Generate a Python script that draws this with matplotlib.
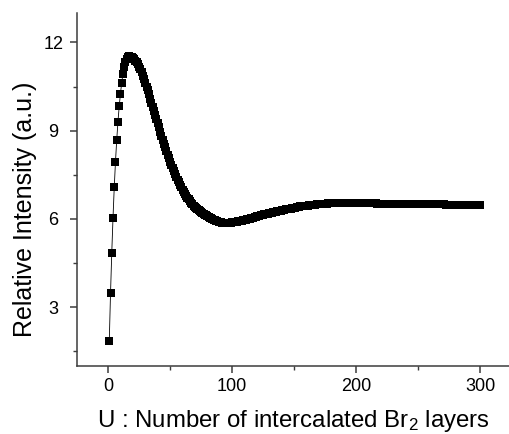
import matplotlib
matplotlib.use("Agg")
import matplotlib.pyplot as plt
from matplotlib.ticker import MultipleLocator

plt.rcParams['font.family'] = ['Liberation Sans', 'DejaVu Sans']
plt.rcParams['mathtext.default'] = 'regular'

# number of intercalated Br2 layers (1..300)
layers = list(range(1, 301))

# relative intensity, one value per layer
intensity = [
    1.85, 3.47, 4.85, 6.04, 7.07, 7.95, 8.69, 9.31, 9.83, 10.26,
    10.63, 10.93, 11.17, 11.34, 11.45, 11.51, 11.53, 11.52, 11.50, 11.47,
    11.43, 11.38, 11.32, 11.25, 11.17, 11.08, 10.98, 10.87, 10.75, 10.63,
    10.50, 10.37, 10.23, 10.09, 9.95, 9.81, 9.67, 9.53, 9.39, 9.25,
    9.11, 8.97, 8.83, 8.69, 8.56, 8.43, 8.30, 8.18, 8.06, 7.94,
    7.83, 7.72, 7.62, 7.52, 7.42, 7.33, 7.24, 7.15, 7.07, 6.99,
    6.92, 6.85, 6.78, 6.72, 6.66, 6.60, 6.55, 6.50, 6.45, 6.41,
    6.37, 6.33, 6.29, 6.26, 6.23, 6.20, 6.17, 6.14, 6.12, 6.10,
    6.07, 6.04, 6.02, 5.99, 5.97, 5.95, 5.93, 5.91, 5.90, 5.89,
    5.88, 5.87, 5.87, 5.86, 5.86, 5.86, 5.86, 5.87, 5.87, 5.88,
    5.88, 5.89, 5.90, 5.90, 5.91, 5.92, 5.93, 5.94, 5.95, 5.96,
    5.97, 5.98, 5.99, 6.00, 6.02, 6.03, 6.04, 6.05, 6.07, 6.08,
    6.09, 6.10, 6.12, 6.13, 6.14, 6.15, 6.16, 6.17, 6.18, 6.19,
    6.20, 6.21, 6.22, 6.23, 6.24, 6.25, 6.26, 6.27, 6.28, 6.29,
    6.30, 6.31, 6.32, 6.33, 6.34, 6.35, 6.35, 6.36, 6.37, 6.38,
    6.38, 6.39, 6.40, 6.41, 6.42, 6.42, 6.43, 6.44, 6.44, 6.45,
    6.45, 6.46, 6.46, 6.47, 6.47, 6.48, 6.48, 6.49, 6.49, 6.50,
    6.50, 6.51, 6.51, 6.52, 6.52, 6.52, 6.53, 6.53, 6.53, 6.54,
    6.54, 6.54, 6.54, 6.54, 6.55, 6.55, 6.55, 6.55, 6.55, 6.55,
    6.55, 6.55, 6.55, 6.55, 6.55, 6.54, 6.54, 6.54, 6.54, 6.54,
    6.54, 6.54, 6.54, 6.54, 6.54, 6.53, 6.53, 6.53, 6.53, 6.53,
    6.53, 6.53, 6.53, 6.53, 6.53, 6.53, 6.52, 6.52, 6.52, 6.52,
    6.52, 6.52, 6.52, 6.52, 6.52, 6.52, 6.52, 6.52, 6.51, 6.51,
    6.51, 6.51, 6.51, 6.51, 6.51, 6.51, 6.51, 6.51, 6.51, 6.51,
    6.50, 6.50, 6.50, 6.50, 6.50, 6.50, 6.50, 6.50, 6.50, 6.50,
    6.50, 6.50, 6.50, 6.50, 6.50, 6.49, 6.49, 6.49, 6.49, 6.49,
    6.49, 6.49, 6.49, 6.49, 6.49, 6.49, 6.49, 6.49, 6.49, 6.49,
    6.49, 6.48, 6.48, 6.48, 6.48, 6.48, 6.48, 6.48, 6.48, 6.48,
    6.48, 6.48, 6.48, 6.48, 6.48, 6.48, 6.48, 6.48, 6.48, 6.48,
    6.48, 6.48, 6.48, 6.48, 6.48, 6.48, 6.48, 6.48, 6.48, 6.48,
]

x_ticks = [0, 100, 200, 300]
y_ticks = [3, 6, 9, 12]

fig = plt.figure(figsize=(5.10, 4.34), dpi=100)
ax = fig.add_axes([0.151, 0.157, 0.847, 0.813])

ax.plot(layers, intensity, color='black', linewidth=0.6,
        marker='s', markersize=6, markerfacecolor='black',
        markeredgecolor='black', markeredgewidth=0)

ax.set_xlim(-25, 323)
ax.set_ylim(1, 13)
ax.set_xticks(x_ticks)
ax.set_yticks(y_ticks)
ax.xaxis.set_minor_locator(MultipleLocator(50))
ax.yaxis.set_minor_locator(MultipleLocator(1.5))

for side in ['top', 'right']:
    ax.spines[side].set_visible(False)
for side in ['left', 'bottom']:
    ax.spines[side].set_color('#3c3c3c')
    ax.spines[side].set_linewidth(1.1)

ax.tick_params(which='major', direction='out', length=5, width=1.1,
               color='#3c3c3c', labelsize=13)
ax.tick_params(axis='x', which='major', pad=4)
# origin-style: y tick labels centred on a common column
ax.tick_params(axis='y', which='major', pad=12)
for lbl in ax.get_yticklabels():
    lbl.set_horizontalalignment('center')
ax.tick_params(which='minor', direction='out', length=3, width=1.0,
               color='#3c3c3c')

fig.text(0.576, 0.031, 'U : Number of intercalated Br$_2$ layers',
         fontsize=17.3, ha='center', va='center')
fig.text(0.049, 0.518, 'Relative Intensity (a.u.)', fontsize=18,
         rotation=90, ha='center', va='center')

fig.savefig('out.png', dpi=100)
